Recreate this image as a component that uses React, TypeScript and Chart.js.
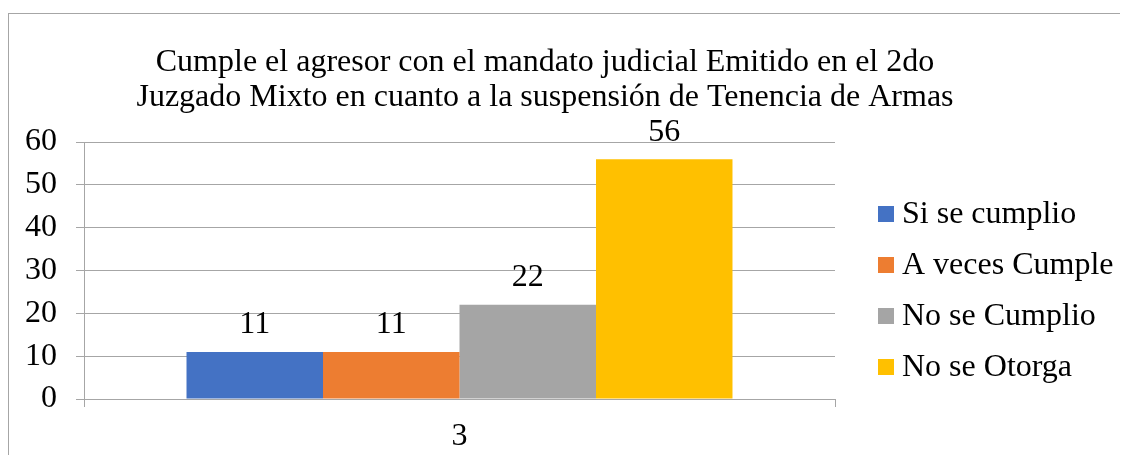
import React, { useEffect, useRef } from "react";
import { Chart, registerables } from "chart.js";

Chart.register(...registerables);

const categories = ["3"];
const seriesNames = ["Si se cumplio", "A veces Cumple", "No se Cumplio", "No se Otorga"];
const seriesValues = [[11], [11], [22], [56]];
const seriesColors = ["#4472C4", "#ED7D31", "#A5A5A5", "#FFC000"];
const yTickValues = [0, 10, 20, 30, 40, 50, 60];
const titleLines = [
  "Cumple el agresor con el mandato judicial Emitido en el 2do",
  "Juzgado Mixto en cuanto a la suspensión de Tenencia de Armas",
];

const FONT = "'Liberation Serif', 'Times New Roman', serif";
const GRID = "#a6a6a6";
const FS = 32;

const titlePlugin = {
  id: "customTitle",
  afterDraw(chart: any, _args: any, opts: any) {
    const ctx = chart.ctx;
    ctx.save();
    ctx.font = `${opts.size}px ${FONT}`;
    ctx.fillStyle = "#000";
    ctx.textAlign = "center";
    ctx.textBaseline = "alphabetic";
    titleLines.forEach((line, i) => {
      ctx.fillText(line, opts.x, opts.y + i * opts.gap);
    });
    ctx.restore();
  },
};

const legendPlugin = {
  id: "customLegend",
  afterDraw(chart: any, _args: any, opts: any) {
    const ctx = chart.ctx;
    const area = chart.chartArea;
    ctx.save();
    ctx.font = `${opts.size}px ${FONT}`;
    ctx.textAlign = "left";
    ctx.textBaseline = "alphabetic";
    chart.data.datasets.forEach((ds: any, i: number) => {
      const cx = area.right + opts.dx;
      const cy = area.top + opts.dy + i * opts.gap;
      ctx.fillStyle = ds.backgroundColor;
      ctx.fillRect(cx, cy - opts.box / 2, opts.box, opts.box);
      ctx.fillStyle = "#000";
      ctx.fillText(ds.label, cx + opts.textDx, cy + opts.baseDy);
    });
    ctx.restore();
  },
};

const valueLabelPlugin = {
  id: "valueLabels",
  afterDatasetsDraw(chart: any, _args: any, opts: any) {
    const ctx = chart.ctx;
    ctx.save();
    ctx.font = `${opts.size}px ${FONT}`;
    ctx.fillStyle = "#000";
    ctx.textAlign = "center";
    ctx.textBaseline = "alphabetic";
    chart.data.datasets.forEach((ds: any, i: number) => {
      const meta = chart.getDatasetMeta(i);
      meta.data.forEach((el: any, j: number) => {
        ctx.fillText(String(ds.data[j]), el.x, el.y - opts.offset);
      });
    });
    ctx.restore();
  },
};

export default function App() {
  const ref = useRef<HTMLCanvasElement | null>(null);

  useEffect(() => {
    if (!ref.current) return;
    const chart = new Chart(ref.current, {
      type: "bar",
      data: {
        labels: categories,
        datasets: seriesNames.map((name, i) => ({
          label: name,
          data: seriesValues[i],
          backgroundColor: seriesColors[i],
          borderWidth: 0,
          barPercentage: 1,
          categoryPercentage: 0.727,
        })),
      },
      options: {
        responsive: false,
        animation: false,
        layout: { padding: { top: 128, right: 293, left: 0, bottom: 0 } },
        plugins: {
          legend: { display: false },
          title: { display: false },
          tooltip: { enabled: false },
          customTitle: { x: 536, y: 57, gap: 35, size: FS },
          customLegend: { dx: 43, dy: 72, gap: 51, box: 16, textDx: 24, baseDy: 9, size: FS },
          valueLabels: { offset: 18.5, size: FS },
        } as any,
        scales: {
          x: {
            grid: {
              display: true,
              drawOnChartArea: false,
              drawTicks: true,
              tickLength: 8,
              color: GRID,
              offset: true,
            },
            border: { display: true, color: GRID },
            ticks: { font: { family: FONT, size: FS }, color: "#000", padding: 10 },
            afterFit: (s: any) => {
              s.height = 56;
            },
          },
          y: {
            min: 0,
            max: 60,
            afterBuildTicks: (s: any) => {
              s.ticks = yTickValues.map((v) => ({ value: v }));
            },
            ticks: { font: { family: FONT, size: FS }, color: "#000", padding: 19 },
            grid: { color: GRID, tickLength: 8 },
            border: { display: true, color: GRID },
            afterFit: (s: any) => {
              s.width = 75;
            },
          },
        },
      },
      plugins: [titlePlugin, legendPlugin, valueLabelPlugin],
    });
    return () => chart.destroy();
  }, []);

  return (
    <div style={{ paddingTop: 5, marginRight: -8 }}>
      <div
        style={{
          width: 1119,
          height: 441,
          borderLeft: `1px solid ${GRID}`,
          borderTop: `1px solid ${GRID}`,
        }}
      >
        <canvas ref={ref} width={1119} height={441} style={{ display: "block" }} />
      </div>
    </div>
  );
}
